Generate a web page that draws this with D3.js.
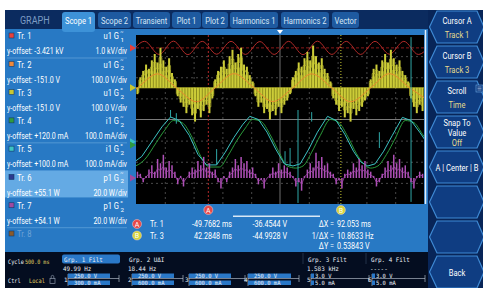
<!DOCTYPE html>
<html>
<head>
<meta charset="utf-8">
<script src="https://cdn.jsdelivr.net/npm/d3@7"></script>
<style>
  body { margin: 0; background: #fff; }
  svg { display: block; }
</style>
</head>
<body>
<div id="chart"></div>
<script>
// ---- data ----
const tabs = ["Scope 1", "Scope 2", "Transient", "Plot 1", "Plot 2", "Harmonics 1", "Harmonics 2", "Vector"];

const traceLabels = ["Tr. 1", "Tr. 2", "Tr. 3", "Tr. 4", "Tr. 5", "Tr. 6", "Tr. 7", "Tr. 8"];
const traceSignals = ["u1", "u1", "u1", "i1", "i1", "p1", "p1", ""];
const traceGroups = ["1", "2", "2", "2", "2", "2", "2", ""];
const traceCoupling = ["~", "~", "=", "~", "=", "~", "=", ""];
const traceOffsets = ["-3.421 kV", "-151.0 V", "-151.0 V", "+120.0 mA", "+100.0 mA", "+55.1 W", "+54.1 W", ""];
const traceScales = ["1.0 kV/div", "100.0 V/div", "100.0 V/div", "100.0 mA/div", "100.0 mA/div", "20.0 W/div", "20.0 W/div", ""];

// time in ms, values in screen divisions
const redT = [-104, -94, -84, -74, -64, -54, -44, -34, -24, -14, -4, 6, 16, 26, 36, 46, 56, 66, 76, 86, 96, 106];
const redV = [3.08, 3.70, 3.08, 3.71, 3.07, 3.70, 3.09, 3.70, 3.08, 3.69, 3.08, 3.70, 3.07, 3.71, 3.08, 3.70, 3.08, 3.70, 3.09, 3.70, 3.08, 3.70];

const orangeT = [-112, -99, -85, -72, -58, -45, -32, -18, -5, 9, 22, 36, 49, 63, 76, 90, 104];
const orangeV = [0.85, 1.5, 2.16, 1.5, 0.84, 1.5, 2.17, 1.5, 0.85, 1.5, 2.16, 1.5, 0.84, 1.5, 2.17, 1.5, 0.85];

const cyanT = [-104, -96, -88, -82, -76, -70, -63, -57, -51, -44, -38, -32, -26, -21, -15, -9, -3, 3, 9, 14, 20, 26, 33, 39, 45, 51, 56, 61, 66, 72, 78, 85, 91, 97, 104];
const cyanV = [-2.15, -1.75, -0.95, -0.35, 0.12, -0.05, -0.75, -1.65, -2.15, -2.15, -1.55, -0.85, -0.25, 0.15, 0.0, -0.6, -1.4, -2.1, -2.2, -2.1, -1.4, -0.6, 0.15, -0.05, -0.7, -1.5, -2.0, -2.2, -2.1, -1.5, -0.75, 0.1, -0.05, -0.6, -1.3];

const greenT = [-102, -94, -86, -80, -74, -68, -61, -55, -49, -42, -36, -30, -24, -19, -13, -7, -1, 5, 11, 16, 22, 28, 35, 41, 47, 53, 58, 63, 68, 74, 80, 87, 93, 99, 106];
const greenV = [-2.25, -1.9, -1.1, -0.5, -0.05, -0.15, -0.85, -1.75, -2.25, -2.25, -1.7, -1.0, -0.4, 0.0, -0.1, -0.7, -1.5, -2.2, -2.3, -2.2, -1.55, -0.75, 0.0, -0.15, -0.8, -1.6, -2.1, -2.3, -2.2, -1.65, -0.9, -0.05, -0.15, -0.7, -1.4];

// spikes on the current trace: time, low, high
const cyanSpikes = [[-76, 0.1, 0.45], [-72, -0.2, 0.3], [-44, -2.15, -1.4], [3.5, -2.1, -1.5], [7, -2.2, -1.35], [12.5, -3.95, 0.45], [22, -0.1, 0.35], [69, -1.35, -0.6], [91, -3.9, 3.9]];

// sampled PWM voltage and power (relative to their offsets)
const sampleT = [-99, -97, -95, -93, -91, -89, -87, -85, -83, -81, -79, -77, -75, -73, -71, -69, -67, -65, -63, -61, -59, -57, -55, -53, -51, -49, -47, -45, -43, -41, -39, -37, -35, -33, -31, -29, -27, -25, -23, -21, -19, -17, -15, -13, -11, -9, -7, -5, -3, -1,
  1, 3, 5, 7, 9, 11, 13, 15, 17, 19, 21, 23, 25, 27, 29, 31, 33, 35, 37, 39, 41, 43, 45, 47, 49, 51, 53, 55, 57, 59, 61, 63, 65, 67, 69, 71, 73, 75, 77, 79, 81, 83, 85, 87, 89, 91, 93, 95, 97, 99];
const yellowBase = 1.5;
const yellowV = [-0.3, 0.5, 0.8, 1.1, 0.9, 1.3, 1.6, 1.2, 1.9, 1.3, 1.0, 1.4, 0.7, 0.4,
  -0.4, -0.7, -0.9, -1.2, -0.8, -1.3, -1.6, -1.0, -1.4, -1.1, -0.8, -1.2, -0.5,
  0.4, 0.8, 1.0, 1.3, 0.9, 1.5, 1.8, 1.2, 1.6, 1.9, 1.1, 1.0, 0.6, 0.3,
  -0.4, -0.9, -0.7, -1.2, -1.0, -1.5, -1.1, -1.3, -0.9, -1.2, -0.8, -0.6, -0.3,
  0.5, 0.8, 1.2, 1.0, 1.4, 1.7, 1.3, 2.0, 1.5, 1.2, 1.4, 0.9, 0.7, 0.3,
  -0.5, -0.8, -1.1, -0.9, -1.4, -1.2, -1.6, -1.0, -1.3, -1.1, -0.9, -0.6, -0.4,
  0.4, 0.9, 1.1, 0.8, 1.3, 1.6, 1.2, 1.8, 1.4, 1.1, 1.3, 0.8, 0.6, 0.3,
  -0.5, -0.9, -1.2, -0.8, -1.1];
const purpleBase = -2.77;
const purpleV = [0.3, 0.2, -0.2, 0.1, 0.4, 0.6, 0.3, 0.9, 0.7, 1.1, 0.5, 0.8, 0.6, 0.3,
  -0.3, 0.1, -0.4, 0.0, 0.3, 0.5, 0.4, 0.8, 0.6, 1.0, 0.5, 0.7, 0.3,
  0.4, -0.2, -0.5, 0.1, -0.2, 0.3, 0.5, 0.9, 0.6, 1.0, 0.7, 0.8, 0.4, 0.5,
  0.2, -0.3, -0.1, -0.5, 0.0, 0.2, 0.5, 0.3, 0.7, 0.4, 0.6, 0.5, 0.3,
  0.1, -0.4, -0.2, -0.6, 0.1, 0.4, 0.7, 0.5, 1.2, 0.8, 1.0, 0.6, 0.7, 0.3,
  0.2, -0.3, -0.1, -0.5, 0.2, 0.4, 0.3, 0.7, 0.5, 0.9, 0.6, 0.8, 0.4,
  0.3, 0.1, -0.4, -0.2, 0.2, 0.5, 0.8, 0.6, 1.1, 0.7, 0.9, 0.5, 0.6, 0.3,
  -0.2, -0.5, 0.1, 0.3, 0.2];

const redBase = 3.39;
const markerLevels = [3.39, 1.5, -1.05, -1.21, -2.77];

const gridT = [-80, -60, -40, -20, 20, 40, 60, 80];
const gridDiv = [-3, -2, -1, 1, 2, 3];

const cursorA = -49.7682, cursorB = 42.2848;
const readRows = [
  ["A", "Tr. 1", "-49.7682 ms", "-36.4544 V", "\u0394X =", "92.053 ms"],
  ["B", "Tr. 3", "42.2848 ms", "-44.9928 V", "1/\u0394X =", "10.8633 Hz"],
  ["", "", "", "", "\u0394Y =", "0.53843 V"]
];

const buttons = [["Cursor A", "Track 1"], ["Cursor B", "Track 3"], ["Scroll", "Time"], ["Snap To", "Value", "Off"], ["A | Center | B"], [], [], ["Back"]];

const groupHeads = ["Grp. 1 Filt", "Grp. 2 U\u0394I", "Grp. 3 Filt", "Grp. 4 Filt"];
const groupFreqs = ["49.99 Hz", "18.44 Hz", "1.583 kHz", "-----"];
const chanNums = ["1", "2", "3", "4", "5", "6"];
const chanU = ["250.0 V", "250.0 V", "250.0 V", "250.0 V", "3.0 V", "3.0 V"];
const chanI = ["300.0 mA", "600.0 mA", "600.0 mA", "600.0 mA", "5.0 mA", "5.0 mA"];

// ---- layout ----
const W = 483, H = 288;
const narrow = "Roboto, 'DejaVu Sans', sans-serif";
const mono = "'DejaVu Sans Mono', 'Liberation Mono', monospace";
const trColors = ["#e8403a", "#f08a3c", "#c8c832", "#2f9a3f", "#3cc4c4", "#2c3a8e", "#a04aa0", "#8a5a2a"];

const svg = d3.select("#chart").append("svg").attr("width", W).attr("height", H);

// squeezed text, the instrument uses a condensed face
function label(parent, x, y, s, o) {
  o = o || {};
  return parent.append("text")
    .attr("transform", `translate(${x},${y}) scale(${o.sx || 0.84},1)`)
    .attr("text-anchor", o.anchor || "start")
    .attr("font-family", o.family || narrow)
    .attr("font-size", o.size || 8)
    .attr("fill", o.fill || "#fff")
    .text(s);
}

// frame
svg.append("rect").attr("x", 5).attr("y", 10).attr("width", W - 5).attr("height", H - 10).attr("fill", "#0b2b5f");
label(svg, 20, 24, "GRAPH", { size: 10, fill: "#7d9cc4", sx: 0.9 });

// main blue panel
svg.append("rect").attr("x", 5).attr("y", 29).attr("width", 423).attr("height", 223).attr("fill", "#2879c4");

// tabs
const tabX = [62, 98, 133, 172, 202, 230, 281, 332];
const tabW = [33, 33, 37, 29, 26, 48, 48, 27];
tabs.forEach((t, i) => {
  const active = i === 0;
  svg.append("rect").attr("x", tabX[i]).attr("y", 12).attr("width", tabW[i]).attr("height", active ? 20 : 16)
    .attr("rx", 3).attr("fill", active ? "#3d92d8" : "#1e5aa0");
  label(svg, tabX[i] + tabW[i] / 2, 24, t, { anchor: "middle", size: 9.5, sx: 0.8, fill: active ? "#fff" : "#d6e6f6" });
});

// ---- left trace list ----
const rowY = d3.scaleLinear().domain([0, 7]).range([36, 234]);
const list = svg.append("g");
list.append("rect").attr("x", 5).attr("y", rowY(5) - 7).attr("width", 123).attr("height", 27).attr("fill", "#64aae4");
[0, 3, 6].forEach(i => {
  list.append("line").attr("x1", 7).attr("x2", 127).attr("y1", rowY(i) + 22).attr("y2", rowY(i) + 22)
    .attr("stroke", "#5d9fd8").attr("stroke-width", 0.8);
});
traceLabels.forEach((lab, i) => {
  const cy = rowY(i);
  const dim = i === 7;
  list.append("rect").attr("x", 9).attr("y", cy - 3).attr("width", 5).attr("height", 5)
    .attr("fill", trColors[i]).attr("stroke", "#123a6a").attr("stroke-width", 0.6);
  label(list, 17, cy + 3.3, lab, { size: 9.5, sx: 0.8, fill: dim ? "#6fa3d6" : "#fff" });
  if (dim) return;
  label(list, 119, cy + 3.3, traceSignals[i] + " G", { size: 9.5, sx: 0.8, anchor: "end" });
  label(list, 120.3, cy - 2, traceCoupling[i], { size: 4.5, sx: 1 });
  label(list, 120.5, cy + 6, traceGroups[i], { size: 6.2, sx: 1 });
  label(list, 7, cy + 18.3, "y-offset: " + traceOffsets[i], { size: 9, sx: 0.78 });
  label(list, 127, cy + 18.3, traceScales[i], { size: 9, sx: 0.78, anchor: "end" });
});

// ---- scope plot ----
const px0 = 136, px1 = 424, py0 = 35, py1 = 204;
const x = d3.scaleLinear().domain([-100, 100]).range([px0, px1]);
const y = d3.scaleLinear().domain([-4, 4]).range([py1, py0]);

svg.append("rect").attr("x", px0).attr("y", py0).attr("width", px1 - px0).attr("height", py1 - py0).attr("fill", "#000");
svg.append("defs").append("clipPath").attr("id", "clip")
  .append("rect").attr("x", px0).attr("y", py0).attr("width", px1 - px0).attr("height", py1 - py0);
const plot = svg.append("g").attr("clip-path", "url(#clip)");

// dotted grid through axes
const gx = plot.append("g").attr("transform", `translate(0,${py1})`)
  .call(d3.axisTop(x).tickValues(gridT).tickSize(py1 - py0).tickFormat(""));
const gy = plot.append("g").attr("transform", `translate(${px0},0)`)
  .call(d3.axisRight(y).tickValues(gridDiv).tickSize(px1 - px0).tickFormat(""));
[gx, gy].forEach(g => {
  g.select(".domain").remove();
  g.selectAll("line").attr("stroke", "#5a5a5a").attr("stroke-dasharray", "2,3").attr("stroke-width", 0.8);
});

// centre cross
plot.append("line").attr("x1", x(0)).attr("x2", x(0)).attr("y1", py0).attr("y2", py1).attr("stroke", "#8c8c8c").attr("stroke-width", 0.8);
plot.append("line").attr("x1", px0).attr("x2", px1).attr("y1", y(0)).attr("y2", y(0)).attr("stroke", "#9a9a9a").attr("stroke-width", 0.8);
// red offset line
plot.append("line").attr("x1", px0).attr("x2", px1).attr("y1", y(redBase)).attr("y2", y(redBase))
  .attr("stroke", "#8a1a1a").attr("stroke-dasharray", "3,2");

// cursors
plot.append("line").attr("x1", x(cursorA)).attr("x2", x(cursorA)).attr("y1", py0).attr("y2", py1)
  .attr("stroke", "#b02828").attr("stroke-dasharray", "2,2");
plot.append("line").attr("x1", x(cursorB)).attr("x2", x(cursorB)).attr("y1", py0).attr("y2", py1)
  .attr("stroke", "#c8c832").attr("stroke-dasharray", "1,2");

const line = d3.line().curve(d3.curveMonotoneX);
const pts = (T, V) => T.map((t, i) => [x(t), y(V[i])]);

// red trace
plot.append("path").attr("d", line(pts(redT, redV))).attr("fill", "none").attr("stroke", "#b02a28").attr("stroke-width", 1);

// yellow PWM: dense core plus comb
plot.append("path")
  .attr("d", d3.area().curve(d3.curveStep).x(t => x(t)).y0(y(yellowBase)).y1((t, i) => y(yellowBase + yellowV[i] * 0.6))(sampleT))
  .attr("fill", "#9c9c20").attr("opacity", 0.85);
plot.append("line").attr("x1", px0).attr("x2", px1).attr("y1", y(yellowBase)).attr("y2", y(yellowBase))
  .attr("stroke", "#c8c832").attr("stroke-width", 0.8);
plot.selectAll(".yl").data(sampleT).join("rect")
  .attr("x", t => x(t) - 1).attr("width", 2)
  .attr("y", (t, i) => Math.min(y(yellowBase + yellowV[i]), y(yellowBase)))
  .attr("height", (t, i) => Math.abs(y(yellowBase + yellowV[i]) - y(yellowBase)))
  .attr("fill", "#cccc38");
plot.append("path").attr("d", d3.line().curve(d3.curveStep)(sampleT.map((t, i) => [x(t), y(yellowBase + yellowV[i] * 0.75)])))
  .attr("fill", "none").attr("stroke", "#c0c030").attr("stroke-width", 0.7);

// orange fundamental
plot.append("path").attr("d", line(pts(orangeT, orangeV))).attr("fill", "none").attr("stroke", "#e8892e").attr("stroke-width", 1);

// green + cyan currents
plot.append("path").attr("d", line(pts(greenT, greenV))).attr("fill", "none").attr("stroke", "#2a9a3a").attr("stroke-width", 1);
plot.append("path").attr("d", d3.line()(pts(cyanT, cyanV))).attr("fill", "none").attr("stroke", "#3cc4c4").attr("stroke-width", 1);
plot.selectAll(".cs").data(cyanSpikes).join("line")
  .attr("x1", d => x(d[0])).attr("x2", d => x(d[0]))
  .attr("y1", d => y(d[1])).attr("y2", d => y(d[2]))
  .attr("stroke", "#2fa8a8").attr("stroke-width", 1);

// purple power
plot.selectAll(".pl").data(sampleT).join("line")
  .attr("x1", t => x(t)).attr("x2", t => x(t))
  .attr("y1", y(purpleBase)).attr("y2", (t, i) => y(purpleBase + purpleV[i]))
  .attr("stroke", "#b050b8").attr("stroke-width", 1.5);
plot.append("path").attr("d", d3.line()(sampleT.map((t, i) => [x(t), y(purpleBase + purpleV[i] * 0.5)])))
  .attr("fill", "none").attr("stroke", "#a048a8").attr("stroke-width", 0.8);

// left-side level markers
const markColors = ["#e8403a", "#c8c832", "#3cc4c4", "#2f9a3f", "#a04aa0"];
markerLevels.forEach((v, i) => {
  const yy = y(v);
  svg.append("path").attr("d", `M130,${yy - 3.5}L136,${yy}L130,${yy + 3.5}Z`).attr("fill", markColors[i]);
});

// trigger marker + right edge scroll line
svg.append("path").attr("d", `M${x(0) - 3},30L${x(0) + 3},30L${x(0)},34Z`).attr("fill", "#fff");
svg.append("line").attr("x1", 425.5).attr("x2", 425.5).attr("y1", 30).attr("y2", py1).attr("stroke", "#e4eef8").attr("stroke-width", 1.5);

// ---- cursor readout ----
const circ = (cx, cy, lab, col) => {
  svg.append("circle").attr("cx", cx).attr("cy", cy).attr("r", 4.5).attr("fill", col).attr("stroke", "#f4d0d0").attr("stroke-width", 0.5);
  label(svg, cx, cy + 2.5, lab, { anchor: "middle", size: 7, sx: 1 });
};
circ(x(cursorA), 210, "A", "#e84848");
circ(x(cursorB), 210, "B", "#d4d43a");
svg.append("rect").attr("x", 233).attr("y", 215.5).attr("width", 87).attr("height", 1.5).attr("fill", "#d8e8f6");

const readY = [224, 235.5, 246];
readRows.forEach((r, i) => {
  const yy = readY[i] + 3.2;
  const o = { size: 8.8, sx: 0.82 };
  if (r[0]) circ(137, readY[i], r[0], r[0] === "A" ? "#e84848" : "#d4d43a");
  label(svg, 150, yy, r[1], o);
  label(svg, 232, yy, r[2], { ...o, anchor: "end" });
  label(svg, 287, yy, r[3], { ...o, anchor: "end" });
  label(svg, 334, yy, r[4], { ...o, anchor: "end" });
  label(svg, 337, yy, r[5], o);
});

// ---- bottom status bar ----
svg.append("rect").attr("x", 5).attr("y", 252).attr("width", 423).attr("height", 36).attr("fill", "#040d20");
const mt = (xx, yy, s, col, size, sx) => label(svg, xx, yy, s, { family: mono, fill: col || "#e8eef6", size: size || 6, sx: sx || 0.9 });
mt(8, 264, "Cycle", "#e8eef6", 6.2, 0.85);
mt(25, 264, "500.0 ms", "#e0d060", 6, 0.85);
mt(8, 283, "Ctrl", "#e8eef6", 6.2, 0.85);
mt(29, 283, "Local", "#e0d060", 6.2, 0.85);
svg.append("rect").attr("x", 50).attr("y", 278.5).attr("width", 5).attr("height", 5).attr("fill", "none").attr("stroke", "#8a96a8").attr("stroke-width", 0.7);
svg.append("path").attr("d", "M51.2,278.5v-1.8a1.3,1.3 0 0 1 2.6,0v1.8").attr("fill", "none").attr("stroke", "#8a96a8").attr("stroke-width", 0.7);

const groupX = [62, 127, 306, 369];
groupHeads.forEach((g, i) => {
  if (i === 0) svg.append("rect").attr("x", groupX[i]).attr("y", 254.5).attr("width", 58).attr("height", 9).attr("rx", 2).attr("fill", "#2a78c8");
  mt(groupX[i] + 2, 261.5, g, "#e8eef6", 6.2, 0.95);
  mt(groupX[i] + 1, 271, groupFreqs[i], "#e8eef6", 6.2, 0.95);
  if (i >= 2) svg.append("line").attr("x1", groupX[i] - 3).attr("x2", groupX[i] - 3).attr("y1", 253).attr("y2", 264).attr("stroke", "#3a4a66").attr("stroke-width", 0.6);
});

const chanX = [64, 128, 185, 244, 307, 368];
const chanEnd = [119, 183, 245, 299, 369, 425];
const chanBar = [42, 42, 42, 43, 3, 3];
chanNums.forEach((n, i) => {
  const x0 = chanX[i] + 4;
  mt(chanX[i], 282, n, "#e8eef6", 6, 1);
  svg.append("line").attr("x1", x0).attr("x2", chanEnd[i]).attr("y1", 278.5).attr("y2", 278.5).attr("stroke", "#c8d0dc").attr("stroke-width", 0.6);
  svg.append("line").attr("x1", chanEnd[i]).attr("x2", chanEnd[i]).attr("y1", 275).attr("y2", 282).attr("stroke", "#c8d0dc").attr("stroke-width", 0.6);
  svg.append("line").attr("x1", x0).attr("x2", x0).attr("y1", 274).attr("y2", 286).attr("stroke", "#c8d0dc").attr("stroke-width", 0.6);
  svg.append("rect").attr("x", x0).attr("y", 273.5).attr("width", chanBar[i]).attr("height", 4.5).attr("fill", "#2a78c8");
  svg.append("rect").attr("x", x0).attr("y", 280.5).attr("width", chanBar[i]).attr("height", 4.5).attr("fill", "#2a78c8");
  const tx = chanBar[i] > 10 ? x0 + 6 : x0 + 4;
  mt(tx, 277.8, chanU[i], "#e8eef6", 5.8, 0.95);
  mt(tx, 285.2, chanI[i], "#e8eef6", 5.8, 0.95);
});

// ---- right soft keys ----
svg.append("rect").attr("x", 428).attr("y", 10).attr("width", 55).attr("height", 278).attr("fill", "#082558");
buttons.forEach((b, i) => {
  const top = 11 + 35 * i, h = 32, mid = top + h / 2;
  svg.append("path").attr("d", `M429.5,${mid}L437,${top}L477,${top}L484,${mid}L477,${top + h}L437,${top + h}Z`)
    .attr("fill", "#0f3d82").attr("stroke", "#3f8ad4").attr("stroke-width", 1.2);
  const n = b.length;
  const ys = n === 3 ? [mid - 6, mid + 4, mid + 14] : n === 2 ? [mid - 3, mid + 11] : [mid + 3.5];
  b.forEach((s, k) => {
    const status = n > 1 && k === n - 1;
    label(svg, 457, ys[k], s, { anchor: "middle", size: 9, sx: 0.84, fill: status ? "#e6dc8c" : "#fff" });
  });
});
// small menu glyph by the Scroll key
svg.append("rect").attr("x", 476).attr("y", 85).attr("width", 7).attr("height", 7).attr("fill", "#0f3d82").attr("stroke", "#6fa8e0").attr("stroke-width", 0.6);
[87, 88.5, 90].forEach(yy => svg.append("line").attr("x1", 477.5).attr("x2", 481.5).attr("y1", yy).attr("y2", yy).attr("stroke", "#cfe2f6").attr("stroke-width", 0.5));
</script>
</body>
</html>
